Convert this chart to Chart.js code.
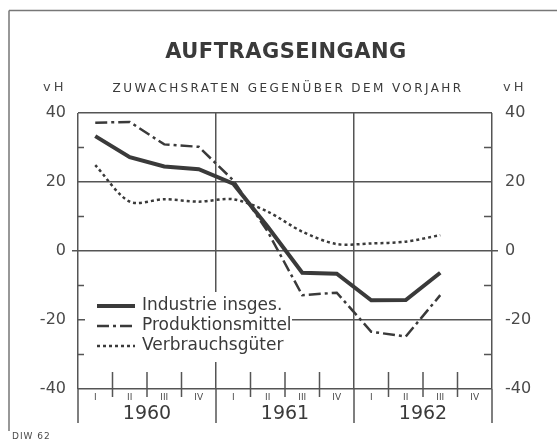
<!DOCTYPE html>
<html><head><meta charset="utf-8">
<script src="https://cdn.jsdelivr.net/npm/chart.js@4/dist/chart.umd.min.js"></script>
<style>html,body{margin:0;padding:0;background:#fff;} canvas{display:block;}</style>
</head><body>
<canvas id="c" width="557" height="443"></canvas>
<script>
const TITLE = 'AUFTRAGSEINGANG';
const SUBTITLE = 'ZUWACHSRATEN GEGENÜBER DEM VORJAHR';
const UNIT = 'vH';
const SOURCE = 'DIW 62';
const quarters = ['I','II','III','IV','I','II','III','IV','I','II','III','IV'];
const years = ['1960','1961','1962'];
const yTicks = [-40, -20, 0, 20, 40];
const yMinorTicks = [-30, -10, 10, 30];
const seriesNames = ['Industrie insges.', 'Produktionsmittel', 'Verbrauchsgüter'];
const industrie  = [33.3, 27.2, 24.5, 23.7, 19.5, 7.0, -6.3, -6.6, -14.3, -14.2, -6.3];
const produktion = [37.2, 37.4, 30.9, 30.2, 20.5, 5.6, -12.8, -12.1, -23.4, -24.8, -12.8];
const verbrauch  = [24.9, 14.3, 15.0, 14.3, 15.0, 11.4, 5.6, 2.0, 2.2, 2.7, 4.6];

const FONT = "'DejaVu Sans', sans-serif";
const INK = '#3a3a3a';
const LABEL = '#4a4a4a';
const LINE = '#555';

const decor = {
  id: 'decor',
  beforeDraw(chart) {
    const ctx = chart.ctx;
    ctx.save();
    ctx.fillStyle = '#fff';
    ctx.fillRect(0, 0, chart.width, chart.height);
    ctx.restore();
  },
  beforeDatasetsDraw(chart) {
    const {ctx, chartArea: a, scales} = chart;
    const x = scales.x, y = scales.y;
    const step = x.getPixelForValue(1) - x.getPixelForValue(0);
    ctx.save();
    ctx.strokeStyle = LINE;
    ctx.lineWidth = 1.5;
    ctx.beginPath();
    for (let i = 0; i <= quarters.length; i++) {
      const px = (i < quarters.length ? x.getPixelForValue(i) : x.getPixelForValue(quarters.length - 1) + step) - step / 2;
      if (i % 4 === 0) {
        ctx.moveTo(px, a.bottom); ctx.lineTo(px, a.bottom + 34);
      } else {
        ctx.moveTo(px, a.bottom - 17); ctx.lineTo(px, a.bottom + 8);
      }
    }
    for (const v of yMinorTicks) {
      const py = y.getPixelForValue(v);
      ctx.moveTo(a.left, py); ctx.lineTo(a.left + 6, py);
      ctx.moveTo(a.right - 8, py); ctx.lineTo(a.right, py);
    }
    ctx.stroke();

    // outer frame
    ctx.strokeStyle = '#777';
    ctx.beginPath();
    ctx.moveTo(9, 10.5); ctx.lineTo(557, 10.5);
    ctx.moveTo(9, 10.5); ctx.lineTo(9, 431);
    ctx.stroke();

    // legend box
    const lx = 85, ly = 292;
    ctx.fillStyle = '#fff';
    ctx.fillRect(lx, ly, 207, 70);
    ctx.font = '17px ' + FONT;
    ctx.textBaseline = 'middle';
    ctx.textAlign = 'left';
    chart.data.datasets.forEach((ds, i) => {
      const yy = 306 + i * 20;
      ctx.strokeStyle = ds.borderColor;
      ctx.lineWidth = ds.borderWidth;
      ctx.setLineDash(ds.borderDash || []);
      ctx.beginPath();
      ctx.moveTo(97, yy); ctx.lineTo(135, yy);
      ctx.stroke();
      ctx.setLineDash([]);
      ctx.fillStyle = INK;
      ctx.fillText(ds.label, 142, yy);
    });
    ctx.restore();
  },
  afterDraw(chart) {
    const ctx = chart.ctx;
    ctx.save();
    ctx.fillStyle = INK;
    ctx.textBaseline = 'middle';
    ctx.textAlign = 'center';
    ctx.font = 'bold 21px ' + FONT;
    ctx.letterSpacing = '0.5px';
    ctx.fillText(TITLE, 286, 53);
    ctx.font = '12px ' + FONT;
    ctx.letterSpacing = '2.4px';
    ctx.fillText(SUBTITLE, 288, 89);
    ctx.textAlign = 'left';
    ctx.fillStyle = LABEL;
    ctx.font = '13px ' + FONT;
    ctx.letterSpacing = '3px';
    ctx.fillText(UNIT, 43, 88);
    ctx.fillText(UNIT, 503, 88);
    ctx.font = '9px ' + FONT;
    ctx.letterSpacing = '1px';
    ctx.fillText(SOURCE, 12, 437);
    ctx.restore();
  }
};

const tickFont = {family: FONT, size: 16};

new Chart(document.getElementById('c'), {
  type: 'line',
  data: {
    labels: quarters,
    datasets: [
      {label: seriesNames[0], data: industrie, borderColor: INK, borderWidth: 4, pointRadius: 0, tension: 0, fill: false},
      {label: seriesNames[1], data: produktion, borderColor: INK, borderWidth: 2.5, borderDash: [12, 4, 3, 4], pointRadius: 0, tension: 0, fill: false},
      {label: seriesNames[2], data: verbrauch, borderColor: INK, borderWidth: 2.5, borderDash: [3, 3], pointRadius: 0, tension: 0.3, fill: false}
    ]
  },
  options: {
    responsive: false,
    animation: false,
    devicePixelRatio: 1,
    layout: {padding: {top: 113, bottom: 10, left: 0, right: 0}},
    plugins: {legend: {display: false}, tooltip: {enabled: false}, title: {display: false}},
    scales: {
      x: {
        type: 'category', labels: quarters, offset: true, position: 'bottom', weight: 0,
        grid: {offset: true, drawTicks: false, lineWidth: 1.5,
          color: c => (c.type !== 'tick' || c.index % 4 === 0) ? LINE : 'transparent'},
        border: {display: false},
        ticks: {font: {family: FONT, size: 9}, color: LABEL, padding: 3, maxRotation: 0, autoSkip: false},
        afterFit: s => { s.height = 12; }
      },
      xYear: {
        type: 'category', labels: years, offset: true, position: 'bottom', weight: 1,
        grid: {display: false, drawTicks: false},
        border: {display: false},
        ticks: {font: {family: FONT, size: 19}, color: INK, padding: 2, maxRotation: 0, autoSkip: false},
        afterFit: s => { s.height = 32; }
      },
      y: {
        position: 'left', min: -40, max: 40,
        afterBuildTicks: s => { s.ticks = yTicks.map(v => ({value: v})); },
        ticks: {font: tickFont, color: LABEL, padding: 6},
        grid: {lineWidth: 1.5, tickLength: 6, drawTicks: true,
          color: LINE,
          tickColor: c => (c.tick && c.tick.value === 0) ? LINE : 'transparent'},
        border: {display: false},
        afterFit: s => { s.width = 78; }
      },
      y2: {
        position: 'right', min: -40, max: 40,
        afterBuildTicks: s => { s.ticks = yTicks.map(v => ({value: v})); },
        ticks: {font: tickFont, color: LABEL, padding: 7},
        grid: {drawOnChartArea: false, lineWidth: 1.5, tickLength: 6, drawTicks: true,
          tickColor: c => (c.tick && c.tick.value === 0) ? LINE : 'transparent'},
        border: {display: false},
        afterFit: s => { s.width = 65; }
      }
    }
  },
  plugins: [decor]
});
</script>
</body></html>
